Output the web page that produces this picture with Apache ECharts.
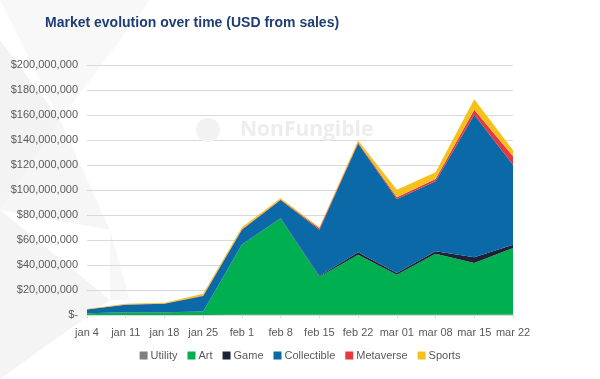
<!DOCTYPE html>
<html>
<head>
<meta charset="utf-8">
<script src="https://cdn.jsdelivr.net/npm/echarts@6/dist/echarts.min.js"></script>
<style>
html,body{margin:0;padding:0;background:#fff;}
#chart{width:600px;height:379px;}
</style>
</head>
<body>
<div id="chart"></div>
<script>
var categories = ['jan 4','jan 11','jan 18','jan 25','feb 1','feb 8','feb 15','feb 22','mar 01','mar 08','mar 15','mar 22'];
// values in millions of USD
var utility     = [0.1, 0.1, 0.1, 0.1, 0.2, 0.2, 0.2, 0.3, 0.3, 0.3, 0.3, 0.3];
var art         = [1.3, 2.0, 2.0, 2.7, 56.0, 77.0, 30.5, 48.0, 32.0, 48.8, 41.3, 53.3];
var game        = [0.1, 0.1, 0.1, 0.1, 0.2, 0.3, 0.5, 2.0, 1.3, 1.9, 4.6, 2.7];
var collectible = [3.0, 6.0, 6.8, 12.4, 11.8, 14.5, 37.0, 87.0, 59.2, 56.0, 114.0, 64.0];
var metaverse   = [0.1, 0.2, 0.2, 0.3, 0.5, 0.5, 1.3, 0.8, 1.5, 1.8, 4.0, 6.7];
var sports      = [0.3, 0.6, 0.7, 1.5, 1.5, 1.0, 0.7, 1.5, 6.0, 5.5, 8.5, 4.8];
var seriesNames = ['Utility','Art','Game','Collectible','Metaverse','Sports'];
var seriesColors = ['#7f7f7f','#00b050','#1e2236','#0b69a8','#e8383d','#f6c11c'];
var seriesData = [utility, art, game, collectible, metaverse, sports];

var font = '"Liberation Sans Narrow","Liberation Sans",Arial,sans-serif';

function fmt(v){
  if (v === 0) return '$-';
  return '$' + v.toString().replace(/\B(?=(\d{3})+(?!\d))/g, ',');
}

var chart = echarts.init(document.getElementById('chart'));
var option = {
  backgroundColor: '#ffffff',
  animation: false,
  title: {
    text: 'Market evolution over time (USD from sales)',
    left: 40, top: 11,
    textStyle: {color: '#1d3d73', fontSize: 14, fontWeight: 'bold', fontFamily: 'Liberation Sans, Arial, sans-serif'}
  },
  graphic: [
    {type: 'polygon', z: -10, silent: true, shape: {points: [[0,0],[150,0],[60,120]]}, style: {fill: '#f8f8f8'}},
    {type: 'polygon', z: -10, silent: true, shape: {points: [[0,40],[60,120],[0,210]]}, style: {fill: '#f3f3f3'}},
    {type: 'polygon', z: -10, silent: true, shape: {points: [[60,120],[110,230],[0,210]]}, style: {fill: '#f6f6f6'}},
    {type: 'polygon', z: -10, silent: true, shape: {points: [[0,210],[110,300],[0,379]]}, style: {fill: '#f4f4f4'}},
    {type: 'polygon', z: -10, silent: true, shape: {points: [[110,230],[130,300],[110,300]]}, style: {fill: '#f7f7f7'}},
    {type: 'circle', z: 1, silent: true, shape: {cx: 208, cy: 130, r: 12}, style: {fill: '#f2f2f2'}},
    {type: 'text', z: 1, silent: true, left: 240, top: 120,
      style: {text: 'NonFungible', fill: '#ededed', font: 'bold 21px "Open Sans", "Liberation Sans", sans-serif'}}
  ],
  legend: {
    data: seriesNames,
    bottom: 13,
    left: 'center',
    itemWidth: 8, itemHeight: 8, itemGap: 10,
    icon: 'rect',
    textStyle: {color: '#595959', fontSize: 11, fontFamily: font, padding: [0,0,0,-2]}
  },
  grid: {left: 87, right: 87, top: 65, bottom: 64, containLabel: false},
  xAxis: {
    type: 'category',
    boundaryGap: false,
    data: categories,
    axisLine: {lineStyle: {color: '#d9d9d9'}},
    axisTick: {show: true, length: 3, interval: 0, lineStyle: {color: '#d9d9d9'}},
    axisLabel: {color: '#595959', fontSize: 11, fontFamily: font, margin: 12, interval: 0}
  },
  yAxis: {
    type: 'value',
    min: 0, max: 200000000, interval: 20000000,
    axisLine: {show: false},
    axisTick: {show: false},
    splitLine: {lineStyle: {color: '#d9d9d9'}},
    axisLabel: {color: '#595959', fontSize: 11, fontFamily: font, margin: 9, formatter: fmt}
  },
  series: seriesNames.map(function(name, i){
    return {
      name: name,
      type: 'line',
      stack: 'total',
      symbol: 'none',
      lineStyle: {width: 0, opacity: 0},
      areaStyle: {color: seriesColors[i], opacity: 1},
      itemStyle: {color: seriesColors[i]},
      data: seriesData[i].map(function(v){ return Math.round(v * 1000000); })
    };
  })
};
chart.setOption(option);
</script>
</body>
</html>
